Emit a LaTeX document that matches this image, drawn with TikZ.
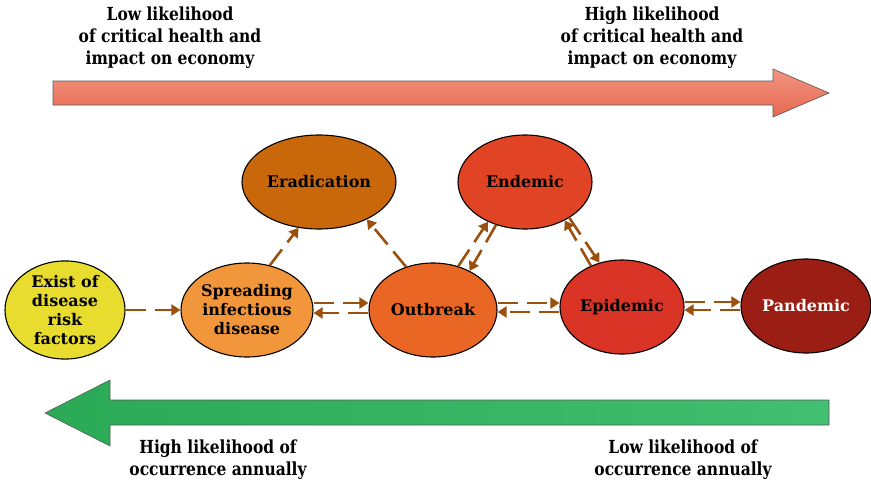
\documentclass[tikz,border=0pt]{standalone}
\usepackage{fontspec}
\setmainfont{DejaVu Serif}
\newfontfamily\lblfont{DejaVu Serif}[FakeStretch=0.86]
\usetikzlibrary{arrows.meta,shapes.geometric}
\definecolor{cYel}{HTML}{E8DC2E}
\definecolor{cSpr}{HTML}{F2963C}
\definecolor{cEra}{HTML}{C8680A}
\definecolor{cOut}{HTML}{E96624}
\definecolor{cEnd}{HTML}{E04424}
\definecolor{cEpi}{HTML}{D93426}
\definecolor{cPan}{HTML}{9A1E14}
\definecolor{cCon}{HTML}{9C500E}
\definecolor{cTopA}{HTML}{F29482}
\definecolor{cTopB}{HTML}{E8694F}
\definecolor{cBotA}{HTML}{2AAA55}
\definecolor{cBotB}{HTML}{40C070}
\begin{document}
\begin{tikzpicture}[x=1pt,y=-1pt,
  ell/.style={ellipse, draw=black, line width=1.1pt, inner sep=0pt, align=center,
    font=\bfseries\fontsize{16}{19}\selectfont},
  con/.style={draw=cCon, line width=2.6pt, dash pattern=on 20pt off 9pt,
    -{Triangle[length=9pt,width=11pt]}},
  lbl/.style={align=center, font=\lblfont\bfseries\fontsize{18}{22}\selectfont}
]
\useasboundingbox (0,0) rectangle (871,482);
% top arrow
\draw[draw=black!65, line width=0.6pt, top color=cTopA, bottom color=cTopB]
  (53,81) -- (773,81) -- (773,69) -- (829,93) -- (773,117) -- (773,105) -- (53,105) -- cycle;
% bottom arrow
\draw[draw=black!65, line width=0.6pt, left color=cBotA, right color=cBotB]
  (829,400) -- (110,400) -- (110,380) -- (45,413) -- (110,446) -- (110,425) -- (829,425) -- cycle;
% labels
\node[lbl] (t1) at (170,38) {Low likelihood\\of critical health and\\impact on economy};
\node[lbl] (t2) at (652,38) {High likelihood\\of critical health and\\impact on economy};
\node[lbl] (b1) at (218,460) {High likelihood of\\occurrence annually};
\node[lbl] (b2) at (683,460) {Low likelihood of\\occurrence annually};
% ellipses
\node[ell, fill=cYel, minimum width=120pt, minimum height=96pt] (ex) at (65,310) {Exist of\\disease\\risk\\factors};
\node[ell, fill=cSpr, minimum width=132pt, minimum height=94pt] (sp) at (247,310) {Spreading\\infectious\\disease};
\node[ell, fill=cEra, minimum width=154pt, minimum height=94pt] (er) at (319,182) {Eradication};
\node[ell, fill=cOut, minimum width=128pt, minimum height=94pt] (ob) at (433,310) {Outbreak};
\node[ell, fill=cEnd, minimum width=134pt, minimum height=94pt] (en) at (525,182) {Endemic};
\node[ell, fill=cEpi, minimum width=124pt, minimum height=94pt] (ep) at (622,307) {Epidemic};
\node[ell, fill=cPan, minimum width=130pt, minimum height=94pt, text=white] (pa) at (806,306) {Pandemic};
% connectors
\draw[con] (ex.east) -- (sp.west);
\draw[con] ([yshift=7pt]sp.east) -- ([yshift=7pt]ob.west);
\draw[con] ([yshift=-3pt]ob.west) -- ([yshift=-3pt]sp.east);
\draw[con] (sp.63) -- (er.246);
\draw[con] (ob.122) -- (er.322);
\draw[con] (ob.60) -- (en.227);
\draw[con] (en.236) -- (ob.47);
\draw[con] (ep.127) -- (en.316);
\draw[con] (en.321) -- (ep.117);
\draw[con] ([yshift=7pt]ob.east) -- ([yshift=7pt]ob.east -| ep.west);
\draw[con] ([yshift=-2pt]ep.west |- ob.east) -- ([yshift=-2pt]ob.east);
\draw[con] ([yshift=5pt]ep.east) -- ([yshift=5pt]ep.east -| pa.west);
\draw[con] ([yshift=-3pt]pa.west |- ep.east) -- ([yshift=-3pt]ep.east);
\end{tikzpicture}
\end{document}
